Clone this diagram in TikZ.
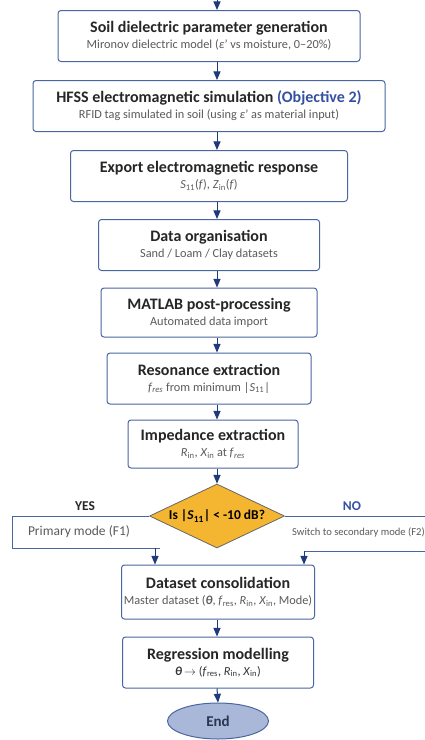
\documentclass[tikz,border=0pt]{standalone}
\usepackage{fontspec}
\setmainfont{Carlito}
\usepackage{xcolor}
\usepackage{tikz}
\usetikzlibrary{shapes,arrows}
\usetikzlibrary{positioning}

\definecolor{boxblue}{HTML}{4A66A0}
\definecolor{arrowblue}{HTML}{1F3A7A}
\definecolor{notegray}{HTML}{5A5A5A}
\definecolor{objblue}{HTML}{3550A0}
\definecolor{decgold}{HTML}{F4B630}
\definecolor{endfill}{HTML}{A9B8D8}
\definecolor{endtext}{HTML}{2A3550}

\newcommand{\steptitle}[1]{{\fontsize{16}{18}\selectfont\bfseries #1}}
\newcommand{\stepnote}[1]{{\fontsize{12.3}{14}\selectfont\color{notegray}#1}}
\newcommand{\vsub}[2]{\textit{#1}\textsubscript{#2}}

\tikzstyle{block} = [rectangle, draw=boxblue, line width=1pt, fill=white,
    text centered, align=center, rounded corners=3pt, minimum height=51pt,
    inner sep=2pt, text=black!85]
\tikzstyle{decision} = [diamond, draw=black!60, fill=decgold, line width=0.8pt,
    aspect=2.1, minimum width=135pt, minimum height=64pt, inner sep=0pt]
\tikzstyle{terminal} = [ellipse, draw=boxblue, fill=endfill, line width=1pt,
    minimum width=101pt, minimum height=36pt, text=endtext]
\tikzstyle{line} = [draw=arrowblue, line width=1pt, -triangle 45]
\tikzstyle{branch} = [draw=boxblue, line width=1pt]
\tikzstyle{branchtext} = [font=\fontsize{13.5}{15}\selectfont\bfseries]

\begin{document}
\begin{tikzpicture}[x=1pt, y=1pt, node distance=70pt, auto]
  \useasboundingbox (0,0) rectangle (425,-740);
  \clip (0,0) rectangle (425,-740);
  % Place nodes
  \coordinate (top) at (217,0);
  \node [block, minimum width=302pt] (soil) at (209,-36)
    {\steptitle{Soil dielectric parameter generation}\\[4pt]
     \stepnote{Mironov dielectric model (\textit{ε}' vs moisture, 0–20\%)}};
  \node [block, below of=soil, minimum width=352pt] (hfss)
    {\steptitle{HFSS electromagnetic simulation \textcolor{objblue}{(Objective 2)}}\\[4pt]
     \stepnote{RFID tag simulated in soil (using \textit{ε}' as material input)}};
  \node [block, below of=hfss, minimum width=277pt] (export)
    {\steptitle{Export electromagnetic response}\\[4pt]
     \stepnote{\vsub{S}{11}(\textit{f}), \vsub{Z}{in}(\textit{f})}};
  \node [block, below of=export, node distance=69pt, minimum width=221pt] (organise)
    {\steptitle{Data organisation}\\[4pt]
     \stepnote{Sand / Loam / Clay datasets}};
  \node [block, below of=organise, node distance=67.5pt, minimum width=216pt, minimum height=49pt] (matlab)
    {\steptitle{MATLAB post-processing}\\[4pt]
     \stepnote{Automated data import}};
  \node [block, below of=matlab, node distance=66pt, minimum width=204pt] (resonance)
    {\steptitle{Resonance extraction}\\[4pt]
     \stepnote{\textit{f}\textsubscript{\textit{res}} from minimum |\vsub{S}{11}|}};
  \node [block, below of=resonance, node distance=65.5pt, xshift=4pt, minimum width=170pt, minimum height=48pt] (impedance)
    {\steptitle{Impedance extraction}\\[4pt]
     \stepnote{\vsub{R}{in}, \vsub{X}{in} at \textit{f}\textsubscript{\textit{res}}}};
  \node [decision, below of=impedance, node distance=72pt, xshift=4pt] (check)
    {\fontsize{13.5}{15}\selectfont\bfseries Is |\vsub{S}{11}| < -10 dB?};
  \node [block, below of=check, node distance=76pt, xshift=1pt, minimum width=193pt, minimum height=54pt] (consolidate)
    {\steptitle{Dataset consolidation}\\[4pt]
     \stepnote{Master dataset (\textbf{\textit{θ}}, \textit{f}\textsubscript{res}, \vsub{R}{in}, \vsub{X}{in}, Mode)}};
  \node [block, below of=consolidate, node distance=70.5pt, minimum width=191pt] (regression)
    {\steptitle{Regression modelling}\\[4pt]
     \stepnote{\textcolor{black!80}{\textbf{\textit{θ}}\,$\rightarrow$ (\textit{f}\textsubscript{res}, \vsub{R}{in}, \vsub{X}{in})}}};
  \node [terminal, below of=regression, node distance=58.5pt] (finish)
    {\fontsize{15}{17}\selectfont\bfseries End};

  % Branch labels
  \node [branchtext, text=black!85] (yes) at (85,-506) {YES};
  \node [branchtext, text=objblue] (no) at (352,-506) {NO};
  \node (primary) at (79,-532) {\fontsize{13.5}{15}\selectfont\color{notegray}Primary mode (F1)};
  \node [anchor=west, inner sep=0pt] (secondary) at (292,-532) {\fontsize{10.6}{12}\selectfont\color{notegray}Switch to secondary mode (F2)};
  \coordinate (yescorner) at (12,-548);
  \coordinate (yesend) at (160,-548);
  \coordinate (yesdrop) at (155,-548);
  \coordinate (noend) at (425,-516);
  \coordinate (noback) at (425,-551);
  \coordinate (nodrop) at (304,-551);

  % Draw edges
  \path [line] (top) -- (soil.north -| top);
  \path [line] (soil.south -| top) -- (hfss.north -| top);
  \path [line] (hfss.south -| top) -- (export.north -| top);
  \path [line] (export.south -| top) -- (organise.north -| top);
  \path [line] (organise.south -| top) -- (matlab.north -| top);
  \path [line] (matlab.south -| top) -- (resonance.north -| top);
  \path [line] (resonance.south -| top) -- (impedance.north -| top);
  \path [line] (impedance.south -| top) -- (check.north);
  \path [branch] (check.west) -| (yescorner) -- (yesend);
  \path [line] (yesdrop) -- (yesdrop |- consolidate.north);
  \path [branch] (check.east) -- (noend);
  \path [branch] (noback) -- (nodrop);
  \path [line] (nodrop) -- (nodrop |- consolidate.north);
  \path [line] (consolidate.south -| top) -- (regression.north -| top);
  \path [line] (regression.south -| top) -- (finish.north);
\end{tikzpicture}
\end{document}
